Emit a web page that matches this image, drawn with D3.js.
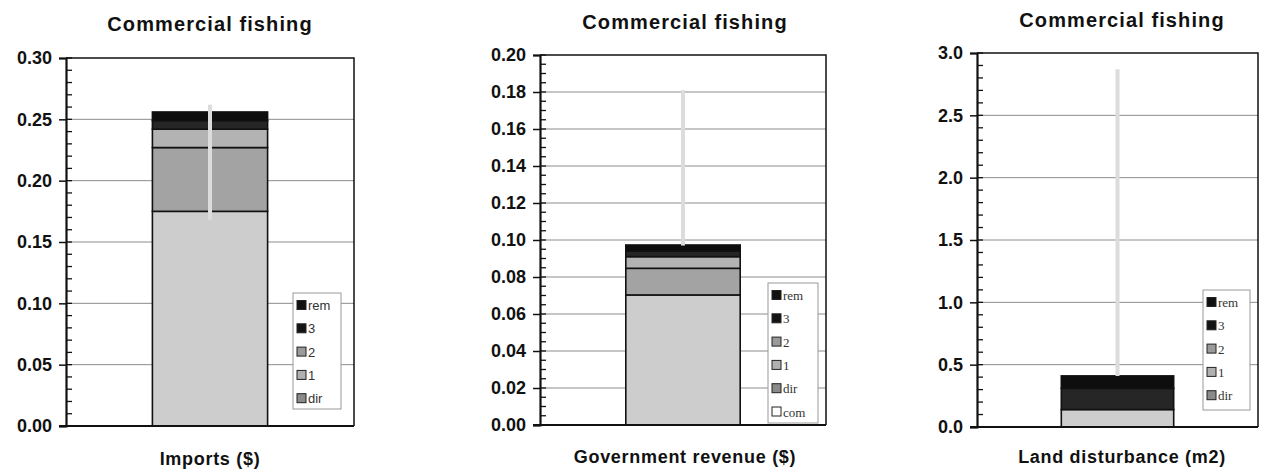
<!DOCTYPE html>
<html><head><meta charset="utf-8">
<script src="https://cdn.jsdelivr.net/npm/d3@7"></script>
<style>
body{margin:0;background:#fff;}
svg{display:block;}
</style></head>
<body>
<svg id="chart" width="1263" height="470"></svg>
<script>
// ---------- data ----------
const titles = ["Commercial fishing", "Commercial fishing", "Commercial fishing"];
const xLabels = ["Imports ($)", "Government revenue ($)", "Land disturbance (m2)"];
const yMax = [0.30, 0.20, 3.0];
const yMajorStep = [0.05, 0.02, 0.5];
const yMinorStep = [0.01, 0.005, 0.1];
const yDecimals = [2, 2, 1];

// stacking order bottom -> top
const importsSeries = ["dir", "1", "2", "3", "rem"];
const importsValues = [0.175, 0.052, 0.015, 0.007, 0.007];
const importsError = [0.168, 0.262];

const revenueSeries = ["com", "dir", "1", "2", "3", "rem"];
const revenueValues = [0.0, 0.0703, 0.0144, 0.0063, 0.003, 0.0033];
const revenueError = [0.097, 0.181];

const landSeries = ["dir", "1", "2", "3", "rem"];
const landValues = [0.14, 0.0, 0.0, 0.17, 0.10];
const landError = [0.41, 2.87];

// ---------- styles ----------
const segFill = {com: "#ffffff", dir: "#cdcdcd", "1": "#a3a3a3", "2": "#b3b3b3", "3": "#262626", rem: "#0e0e0e"};
const swatchFill = {com: "#ffffff", dir: "#8a8a8a", "1": "#b0b0b0", "2": "#9a9a9a", "3": "#141414", rem: "#111111"};

const panels = [
  {series: importsSeries, values: importsValues, err: importsError,
   left: 66, right: 354, top: 58, bottom: 426, titleX: 210, titleY: 31, labelY: 465,
   legend: {x: 293, y: 293, w: 48, h: 116, serif: false}},
  {series: revenueSeries, values: revenueValues, err: revenueError,
   left: 540, right: 826, top: 55, bottom: 425, titleX: 685, titleY: 29, labelY: 463,
   legend: {x: 768, y: 283, w: 50, h: 140, serif: true}},
  {series: landSeries, values: landValues, err: landError,
   left: 977, right: 1258, top: 53, bottom: 427, titleX: 1122, titleY: 27, labelY: 463,
   legend: {x: 1203, y: 290, w: 47, h: 120, serif: true}}
];

const svg = d3.select("#chart");
const sans = "'Liberation Sans', Arial, sans-serif";
const serif = "'Liberation Serif', 'Times New Roman', serif";

panels.forEach((p, i) => {
  const g = svg.append("g");
  const y = d3.scaleLinear().domain([0, yMax[i]]).range([p.bottom, p.top]);
  const x = d3.scaleBand().domain([xLabels[i]]).range([p.left, p.right]).padding(0.4286);

  const nMajor = Math.round(yMax[i] / yMajorStep[i]);
  const majorTicks = d3.range(nMajor + 1).map(k => +(k * yMajorStep[i]).toFixed(4));
  const nMinor = Math.round(yMax[i] / yMinorStep[i]);
  const minorTicks = d3.range(nMinor + 1).map(k => +(k * yMinorStep[i]).toFixed(4));

  // gridlines
  g.append("g").selectAll("line").data(majorTicks.filter(t => t > 0 && t < yMax[i]))
    .join("line")
    .attr("x1", p.left).attr("x2", p.right)
    .attr("y1", d => y(d)).attr("y2", d => y(d))
    .attr("stroke", "#8c8c8c").attr("stroke-width", 1);

  // frame top/right
  g.append("path")
    .attr("d", `M${p.left},${p.top}H${p.right}V${p.bottom}`)
    .attr("fill", "none").attr("stroke", "#111").attr("stroke-width", 1.5);

  // stacked bar
  let acc = 0;
  const segs = p.series.map((s, k) => {
    const seg = {name: s, y0: acc, y1: acc + p.values[k]};
    acc += p.values[k];
    return seg;
  }).filter(s => s.y1 > s.y0);
  g.append("g").selectAll("rect").data(segs).join("rect")
    .attr("x", x(xLabels[i])).attr("width", x.bandwidth())
    .attr("y", d => y(d.y1)).attr("height", d => y(d.y0) - y(d.y1))
    .attr("fill", d => segFill[d.name])
    .attr("stroke", "#111").attr("stroke-width", 1.6);

  // error bar
  const cx = x(xLabels[i]) + x.bandwidth() / 2;
  g.append("line")
    .attr("x1", cx).attr("x2", cx)
    .attr("y1", y(p.err[0])).attr("y2", y(p.err[1]))
    .attr("stroke", "#dcdcdc").attr("stroke-width", 4);

  // y axis
  const axis = d3.axisLeft(y).tickValues(majorTicks)
    .tickFormat(d => d.toFixed(yDecimals[i])).tickSize(7).tickPadding(7);
  const ax = g.append("g").attr("transform", `translate(${p.left},0)`).call(axis);
  ax.select(".domain").attr("stroke", "#111").attr("stroke-width", 2.2);
  ax.selectAll(".tick line").attr("stroke", "#111").attr("stroke-width", 1.5);
  ax.selectAll(".tick text")
    .attr("font-family", sans).attr("font-weight", "bold").attr("font-size", 18)
    .attr("fill", "#111");
  // minor ticks (inside)
  g.append("g").selectAll("line").data(minorTicks).join("line")
    .attr("x1", p.left).attr("x2", p.left + 6)
    .attr("y1", d => y(d)).attr("y2", d => y(d))
    .attr("stroke", "#111").attr("stroke-width", 1.3);

  // bottom axis line
  g.append("line")
    .attr("x1", p.left - 7).attr("x2", p.right)
    .attr("y1", p.bottom).attr("y2", p.bottom)
    .attr("stroke", "#111").attr("stroke-width", 2.2);

  // title
  g.append("text").attr("x", p.titleX).attr("y", p.titleY)
    .attr("text-anchor", "middle")
    .attr("font-family", sans).attr("font-weight", "bold").attr("font-size", 20)
    .attr("letter-spacing", 1.1).attr("fill", "#111")
    .text(titles[i]);

  // x label
  g.append("text").attr("x", p.titleX).attr("y", p.labelY)
    .attr("text-anchor", "middle")
    .attr("font-family", sans).attr("font-weight", "bold").attr("font-size", 18)
    .attr("letter-spacing", 0.7).attr("fill", "#111")
    .text(xLabels[i]);

  // legend
  const L = p.legend;
  const lg = g.append("g");
  lg.append("rect").attr("x", L.x).attr("y", L.y).attr("width", L.w).attr("height", L.h)
    .attr("fill", "#fff").attr("stroke", "#999").attr("stroke-width", 1);
  const items = p.series.slice().reverse();
  const stepH = 23.3;
  const it = lg.selectAll("g.item").data(items).join("g")
    .attr("transform", (d, k) => `translate(${L.x + 4},${L.y + 12.5 + stepH * k})`);
  it.append("rect").attr("x", 0).attr("y", -5).attr("width", 9).attr("height", 9)
    .attr("fill", d => swatchFill[d]).attr("stroke", "#222").attr("stroke-width", 1);
  it.append("text").attr("x", 11).attr("y", 4.5)
    .attr("font-family", L.serif ? serif : sans).attr("font-size", 13)
    .attr("fill", "#333").text(d => d);
});
</script>
</body></html>
